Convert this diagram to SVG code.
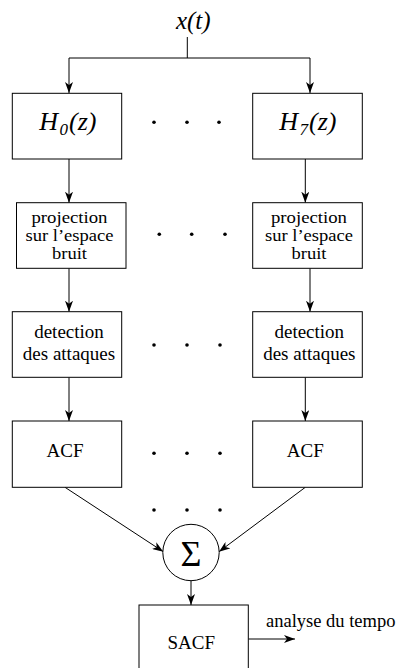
<svg xmlns="http://www.w3.org/2000/svg" width="396" height="668" viewBox="0 0 396 668">
<style>
.box{fill:#fff;stroke:#000;stroke-width:1}
.t{font-family:"Liberation Serif","Times New Roman",serif;font-size:19px;fill:#000;text-anchor:middle}
.p{font-size:16px}
.sig{font-size:36px}
.it{font-family:"Liberation Serif","Times New Roman",serif;font-style:italic;fill:#000}
.c{fill:none;stroke:#000;stroke-width:1}
.a{marker-end:url(#ah)}
.dot{fill:#000}
</style>
<defs>
<marker id="ah" viewBox="0 0 11 8" refX="11" refY="4" markerWidth="11" markerHeight="8" markerUnits="userSpaceOnUse" orient="auto">
<path d="M0,0 L11,4 L0,8 L3,4 Z" fill="#000"/>
</marker>
</defs>
<g id="connectors">
<path class="c" d="M187.3,37 V58"/>
<path class="c" d="M69,58 H310"/>
<path class="c a" d="M69,58 V93"/>
<path class="c a" d="M310,58 V93"/>
<path class="c a" d="M69,159 V202.7"/>
<path class="c a" d="M305.3,159 V202.7"/>
<path class="c a" d="M69,268.3 V311.7"/>
<path class="c a" d="M310,268.3 V311.7"/>
<path class="c a" d="M69,377.3 V421"/>
<path class="c a" d="M305.3,377.3 V421"/>
<path class="c a" d="M65,487.3 L163.3,551.7"/>
<path class="c a" d="M305.3,487.3 L219,551.7"/>
<path class="c a" d="M191,580.7 V605"/>
<path class="c a" d="M248.3,639 H295"/>
</g>
<g id="input">
<text class="it" x="193.3" y="29" font-size="25" text-anchor="middle">x(t)</text>
</g>
<g id="h0">
<rect class="box" x="12.3" y="93.3" width="109.4" height="65.7"/>
<text class="it" x="39.3" y="130" font-size="26">H<tspan font-size="17" dx="1.5" dy="5">0</tspan><tspan dx="1" dy="-5">(z)</tspan></text>
</g>
<g id="h7">
<rect class="box" x="252.7" y="93.3" width="109.6" height="65.7"/>
<text class="it" x="279.3" y="130" font-size="26">H<tspan font-size="17" dx="1.5" dy="5">7</tspan><tspan dx="1" dy="-5">(z)</tspan></text>
</g>
<g id="proj0">
<rect class="box" x="16.5" y="202.7" width="109.5" height="65.6"/>
<text class="t p" x="69.5" y="223" textLength="76" lengthAdjust="spacingAndGlyphs">projection</text>
<text class="t p" x="69.5" y="241" textLength="88" lengthAdjust="spacingAndGlyphs">sur l’espace</text>
<text class="t p" x="69.5" y="259" textLength="35" lengthAdjust="spacingAndGlyphs">bruit</text>
</g>
<g id="proj7">
<rect class="box" x="252.7" y="202.7" width="109.6" height="65.6"/>
<text class="t p" x="309" y="223" textLength="76" lengthAdjust="spacingAndGlyphs">projection</text>
<text class="t p" x="309" y="241" textLength="88" lengthAdjust="spacingAndGlyphs">sur l’espace</text>
<text class="t p" x="309" y="259" textLength="35" lengthAdjust="spacingAndGlyphs">bruit</text>
</g>
<g id="det0">
<rect class="box" x="12.3" y="311.7" width="109.4" height="65.6"/>
<text class="t" x="69" y="337.7">detection</text>
<text class="t" x="69" y="360">des attaques</text>
</g>
<g id="det7">
<rect class="box" x="252.7" y="311.7" width="109.6" height="65.6"/>
<text class="t" x="309.3" y="337.7">detection</text>
<text class="t" x="309.3" y="360">des attaques</text>
</g>
<g id="acf0">
<rect class="box" x="12.3" y="421" width="109.4" height="66.3"/>
<text class="t" x="65" y="456.7">ACF</text>
</g>
<g id="acf7">
<rect class="box" x="252.7" y="421" width="109.6" height="66.3"/>
<text class="t" x="305.3" y="456.7">ACF</text>
</g>
<g id="sum">
<circle class="box" cx="191" cy="552.5" r="28.2"/>
<text class="t sig" x="191" y="565.5">Σ</text>
</g>
<g id="sacf">
<rect class="box" x="139" y="605" width="109.3" height="70"/>
<text class="t" x="191.3" y="649">SACF</text>
</g>
<g id="output">
<text x="266" y="627" font-family="Liberation Serif, Times New Roman, serif" font-size="18.5" fill="#000">analyse du tempo</text>
</g>
<g id="dots">
<circle class="dot" cx="154" cy="122.3" r="1.8"/><circle class="dot" cx="187" cy="122.3" r="1.8"/><circle class="dot" cx="219" cy="122.3" r="1.8"/>
<circle class="dot" cx="159.3" cy="234.3" r="1.8"/><circle class="dot" cx="191.7" cy="234.3" r="1.8"/><circle class="dot" cx="225" cy="234.3" r="1.8"/>
<circle class="dot" cx="154" cy="345" r="1.8"/><circle class="dot" cx="187" cy="345" r="1.8"/><circle class="dot" cx="220" cy="345" r="1.8"/>
<circle class="dot" cx="154" cy="453.3" r="1.8"/><circle class="dot" cx="187" cy="453.3" r="1.8"/><circle class="dot" cx="220" cy="453.3" r="1.8"/>
<circle class="dot" cx="154" cy="510" r="1.8"/><circle class="dot" cx="187" cy="510" r="1.8"/><circle class="dot" cx="220" cy="510" r="1.8"/>
</g>
</svg>
